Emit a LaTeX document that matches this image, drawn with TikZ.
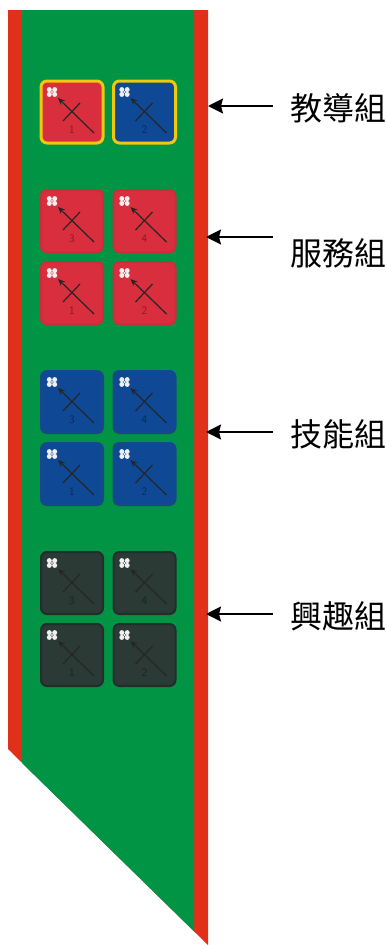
\documentclass[tikz,border=0pt]{standalone}
\usepackage{fontspec}
\newfontfamily\cjkfont{Noto Sans CJK TC}
\usetikzlibrary{arrows.meta}
\definecolor{sashgreen}{HTML}{009444}
\definecolor{sashred}{HTML}{E0301A}
\definecolor{tilered}{HTML}{D92E3E}
\definecolor{tilereddark}{HTML}{CC2D3C}
\definecolor{tileblue}{HTML}{0F4894}
\definecolor{tilebluedark}{HTML}{17498A}
\definecolor{tileblack}{HTML}{2B3A34}
\definecolor{tileblackdark}{HTML}{222E2B}
\definecolor{gold}{HTML}{F2C80F}
\tikzset{
  tilebox/.style={rounded corners=6pt,minimum width=62pt,minimum height=62pt,inner sep=0pt,line width=2pt},
  redtile/.style={tilebox,fill=tilered,draw=tilereddark},
  bluetile/.style={tilebox,fill=tileblue,draw=tilebluedark},
  blacktile/.style={tilebox,fill=tileblack,draw=tileblackdark},
  goldedge/.style={draw=gold,line width=3pt},
  glyphline/.style={draw=black!85,line width=1.2pt},
  numtext/.style={font=\sffamily\fontsize{11.5}{11.5}\selectfont,text=black,opacity=.4,inner sep=0pt},
  petal/.style={fill=white!88!gray,draw=none},
  callout/.style={-{Stealth[length=15pt,width=15pt,inset=2pt]},draw=black,line width=2pt},
  grouplabel/.style={font=\cjkfont\fontsize{32}{32}\selectfont,text=black,inner sep=0pt,anchor=west}
}
\newcommand{\tile}[5]{%
  \node[#4] (#1) at (#2,#3) {};
  \foreach \dx/\dy in {-2.7/-2.4,2.7/-2.4,-2.7/2.4,2.7/2.4}
    \fill[petal] ([shift={(-20+\dx,-20+\dy)}]#1.center) circle[radius=2.5pt];
  \fill[petal] ([shift={(-20,-20)}]#1.center) circle[radius=1.2pt];
  \draw[glyphline,-{Stealth[length=7pt,width=6pt]}] ([shift={(22,21)}]#1.center) -- ([shift={(-14,-14)}]#1.center);
  \draw[glyphline] ([shift={(8,-9)}]#1.center) -- ([shift={(-9,9)}]#1.center);
  \node[numtext] (#1num) at ([shift={(0,18)}]#1.center) {#5};
}
\begin{document}
\begin{tikzpicture}[x=1pt,y=-1pt]
\useasboundingbox (0,0) rectangle (387,945);
\fill[white] (0,0) rectangle (387,945);
% sash
\fill[sashred] (8,10) -- (208,10) -- (208,945) -- (8,749) -- cycle;
\fill[sashgreen] (22,10) -- (194,10) -- (194,931.3) -- (22,763) -- cycle;
% tiles
\tile{a}{72}{112}{redtile,goldedge}{1}
\tile{b}{144.5}{112}{bluetile,goldedge}{2}
\tile{c}{72}{221}{redtile}{3}
\tile{d}{144.5}{221}{redtile}{4}
\tile{e}{72}{293}{redtile}{1}
\tile{f}{144.5}{293}{redtile}{2}
\tile{g}{72}{402}{bluetile}{3}
\tile{h}{144.5}{402}{bluetile}{4}
\tile{i}{72}{474}{bluetile}{1}
\tile{j}{144.5}{474}{bluetile}{2}
\tile{k}{72}{583}{blacktile}{3}
\tile{l}{144.5}{583}{blacktile}{4}
\tile{m}{72}{655}{blacktile}{1}
\tile{n}{144.5}{655}{blacktile}{2}
% callouts
\coordinate (t1) at (273,106); \coordinate (p1) at (208,106);
\coordinate (t2) at (273,237); \coordinate (p2) at (206,237);
\coordinate (t3) at (273,432); \coordinate (p3) at (206,432);
\coordinate (t4) at (273,614); \coordinate (p4) at (206,614);
\draw[callout] (t1) -- (p1);
\draw[callout] (t2) -- (p2);
\draw[callout] (t3) -- (p3);
\draw[callout] (t4) -- (p4);
\node[grouplabel] (l1) at (290,108) {教導組};
\node[grouplabel] (l2) at (290,253) {服務組};
\node[grouplabel] (l3) at (290,434) {技能組};
\node[grouplabel] (l4) at (290,616) {興趣組};
\end{tikzpicture}
\end{document}
